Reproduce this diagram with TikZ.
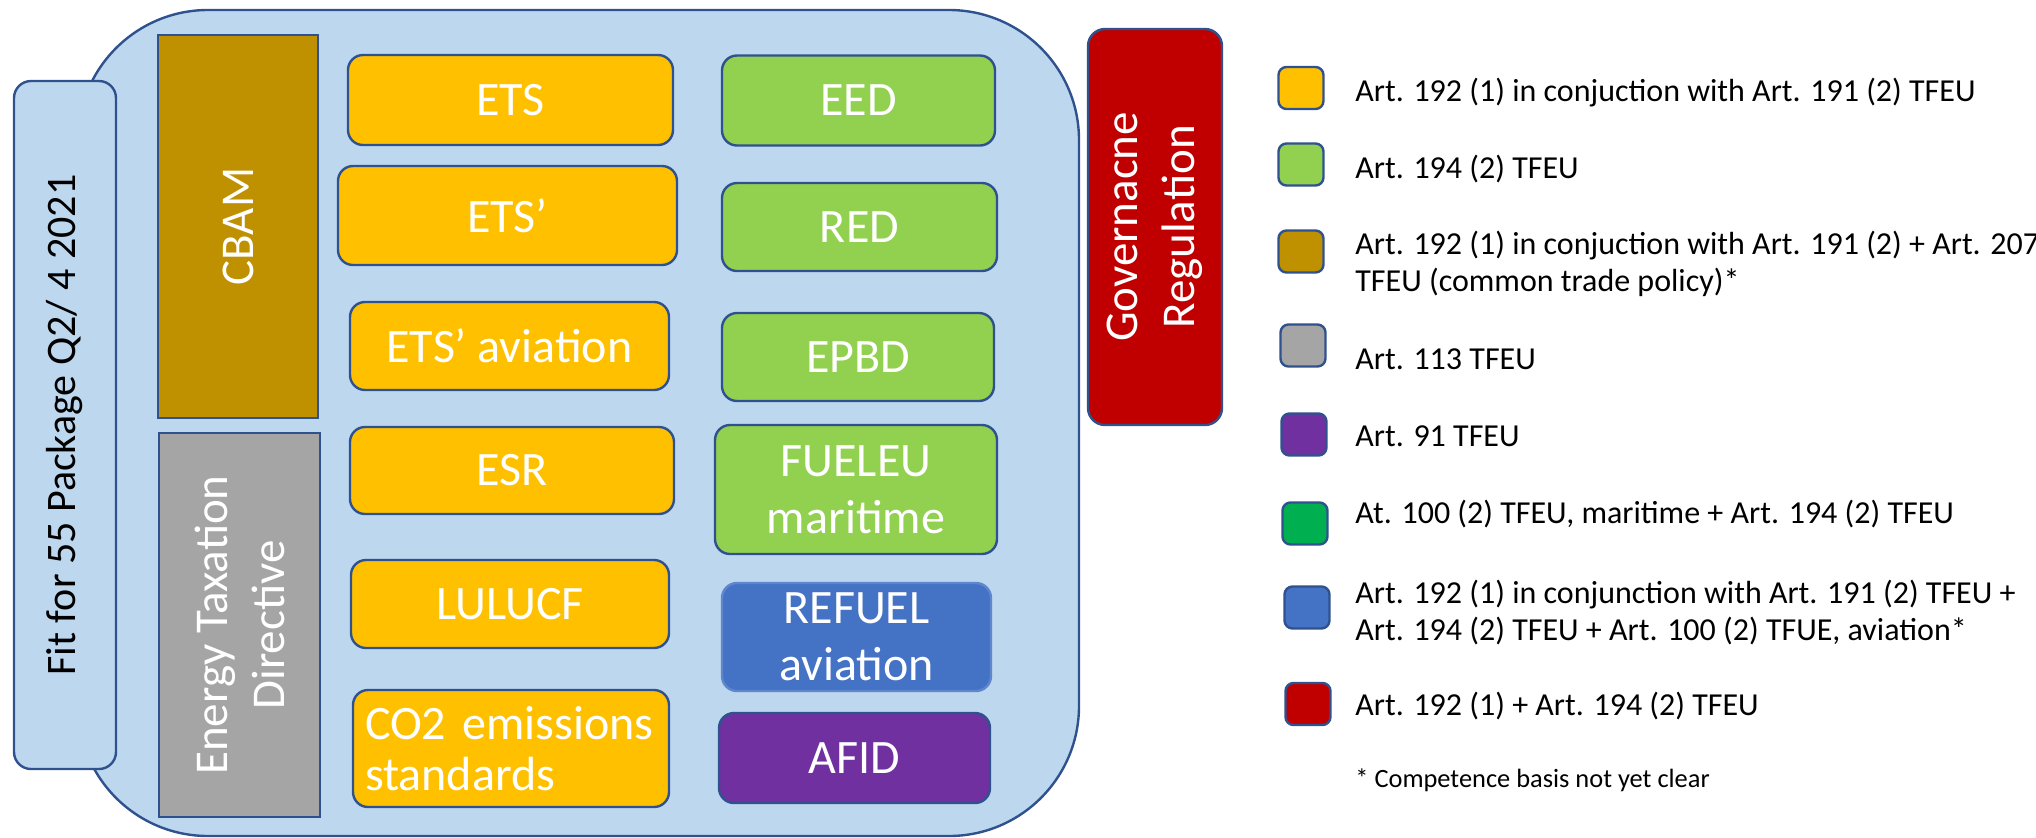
\documentclass[tikz,border=0pt]{standalone}
\usepackage{fontspec}
\setmainfont{Carlito}
\definecolor{lblue}{HTML}{BDD7EE}
\definecolor{edge}{HTML}{2F528F}
\definecolor{orng}{HTML}{FFC000}
\definecolor{grn}{HTML}{92D050}
\definecolor{brwn}{HTML}{BF9000}
\definecolor{gry}{HTML}{A5A5A5}
\definecolor{prpl}{HTML}{7030A0}
\definecolor{blu}{HTML}{4472C4}
\definecolor{rd}{HTML}{C00000}
\definecolor{dgrn}{HTML}{00B050}
\begin{document}
\begin{tikzpicture}[x=0.5pt,y=-0.5pt,
  every node/.style={inner sep=0pt},
  frame/.style={draw=edge,line width=1.2pt},
  tbox/.style={frame,rounded corners=7.5pt,text=white,align=center,font=\fontsize{24}{28.5}\selectfont},
  vbox/.style={frame,rotate=90,align=center,font=\fontsize{23.5}{28.5}\selectfont},
  lsq/.style={frame,rounded corners=4pt,minimum width=22.5pt,minimum height=21pt},
  ltxt/.style={anchor=base west,font=\fontsize{16}{18.5}\selectfont},
]
\useasboundingbox (0,0) rectangle (2036,837);

% package container
\node[frame,fill=lblue,rounded corners=65pt,minimum width=500.5pt,minimum height=413pt] (pkg) at (578.5,423) {};
\node[vbox,fill=lblue,rounded corners=8.5pt,minimum width=344pt,minimum height=51pt,font=\fontsize{21}{25}\selectfont] (fit) at (65,425) {Fit for 55 Package Q2/ 4 2021};

% left column
\node[vbox,fill=brwn,text=white,minimum width=191.5pt,minimum height=80pt] (cbam) at (238,226.5) {CBAM};
\node[vbox,fill=gry,text=white,minimum width=192pt,minimum height=80.5pt] (etd) at (239.5,625) {Energy Taxation\\Directive};

% orange column
\node[tbox,fill=orng,minimum width=162.5pt,minimum height=45pt] (ets) at (510.5,100) {ETS};
\node[tbox,fill=orng,minimum width=169.5pt,minimum height=49.5pt] (etsp) at (507.5,215.5) {ETS’};
\node[tbox,fill=orng,minimum width=159.5pt,minimum height=44pt] (etsav) at (509.5,346) {ETS’ aviation};
\node[tbox,fill=orng,minimum width=162pt,minimum height=43.5pt] (esr) at (512,470.5) {ESR};
\node[tbox,fill=orng,minimum width=159pt,minimum height=44pt] (lulucf) at (510,604) {LULUCF};
\node[tbox,fill=orng,minimum height=58.5pt,text width=146pt,inner xsep=6pt,align=left,font=\fontsize{24}{25.5}\selectfont] (co2) at (511,748.5) {CO2 emissions\\standards};

% green / other column
\node[tbox,fill=grn,minimum width=136.5pt,minimum height=45pt] (eed) at (858.5,100.5) {EED};
\node[tbox,fill=grn,minimum width=137.5pt,minimum height=44pt] (red) at (859.5,227) {RED};
\node[tbox,fill=grn,minimum width=136pt,minimum height=44pt] (epbd) at (858,357) {EPBD};
\node[tbox,fill=grn,minimum width=141pt,minimum height=64.5pt] (fueleu) at (856,489.5) {FUELEU\\maritime};
\node[tbox,fill=blu,draw=blu!85!white,minimum width=134.5pt,minimum height=54pt] (refuel) at (856.5,637) {REFUEL\\aviation};
\node[tbox,fill=prpl,minimum width=135.5pt,minimum height=45pt] (afid) at (854.5,758) {AFID};

% governance
\node[vbox,fill=rd,text=white,rounded corners=8.5pt,minimum width=198pt,minimum height=67pt] (gov) at (1155,227) {Governacne\\Regulation};

% legend
\node[lsq,fill=orng] (lsq1) at (1301,88) {};
\node[lsq,fill=grn] (lsq2) at (1301,164.5) {};
\node[lsq,fill=brwn] (lsq3) at (1301,251.5) {};
\node[lsq,fill=gry] (lsq4) at (1303,345.5) {};
\node[lsq,fill=prpl] (lsq5) at (1304,434.5) {};
\node[lsq,fill=dgrn] (lsq6) at (1305,523.5) {};
\node[lsq,fill=blu] (lsq7) at (1307,607.5) {};
\node[lsq,fill=rd] (lsq8) at (1308,704) {};

\node[ltxt] (lt1) at (1355,101) {Art. 192 (1) in conjuction with Art. 191 (2) TFEU};
\node[ltxt] (lt2) at (1355,178) {Art. 194 (2) TFEU};
\node[ltxt] (lt3) at (1355,254) {\begin{tabular}[t]{@{}l@{}}Art. 192 (1) in conjuction with Art. 191 (2) + Art. 207\\TFEU (common trade policy)*\end{tabular}};
\node[ltxt] (lt4) at (1355,369) {Art. 113 TFEU};
\node[ltxt] (lt5) at (1355,446) {Art. 91 TFEU};
\node[ltxt] (lt6) at (1355,523) {At. 100 (2) TFEU, maritime + Art. 194 (2) TFEU};
\node[ltxt] (lt7) at (1355,603) {\begin{tabular}[t]{@{}l@{}}Art. 192 (1) in conjunction with Art. 191 (2) TFEU +\\Art. 194 (2) TFEU + Art. 100 (2) TFUE, aviation*\end{tabular}};
\node[ltxt] (lt8) at (1355,715) {Art. 192 (1) + Art. 194 (2) TFEU};
\node[ltxt,font=\fontsize{13.2}{16}\selectfont] (note) at (1355,787) {* Competence basis not yet clear};
\end{tikzpicture}
\end{document}
